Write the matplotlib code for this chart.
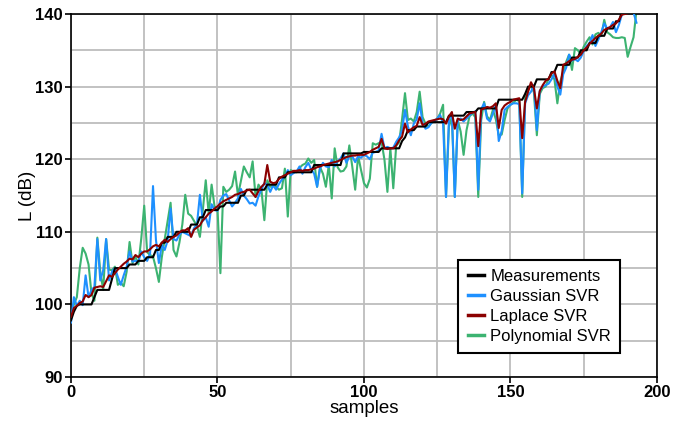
import numpy as np
import matplotlib
matplotlib.use("Agg")
from matplotlib import pyplot as plt
from matplotlib.ticker import MultipleLocator

# --- Data ---
measurements = [
    97.8, 99.0, 99.8, 100.0, 100.0, 100.0, 100.0, 100.0, 101.0, 102.0,
    102.0, 102.0, 102.0, 102.0, 103.5, 105.0, 105.0, 105.0, 105.0, 105.0,
    105.5, 105.5, 105.5, 106.0, 106.0, 106.0, 106.5, 106.5, 106.5, 107.5,
    107.5, 108.5, 108.5, 109.3, 109.3, 109.3, 110.0, 110.0, 110.0, 110.0,
    110.0, 111.0, 111.0, 111.0, 112.0, 112.0, 113.0, 113.0, 113.0, 113.0,
    113.0, 113.5, 113.5, 114.0, 114.0, 114.0, 114.0, 114.0, 115.0, 115.0,
    115.8, 115.8, 115.8, 115.8, 115.8, 115.8, 115.8, 116.5, 116.5, 116.5,
    116.5, 117.5, 117.5, 117.5, 118.2, 118.2, 118.2, 118.2, 118.2, 118.2,
    118.2, 118.2, 118.2, 119.2, 119.2, 119.2, 119.2, 119.2, 119.2, 119.2,
    119.2, 119.2, 119.2, 120.8, 120.8, 120.8, 120.8, 120.8, 120.8, 120.8,
    121.0, 121.0, 121.0, 121.0, 121.0, 121.0, 121.5, 121.5, 121.5, 121.5,
    121.5, 121.5, 121.5, 122.5, 123.0, 124.0, 124.0, 124.0, 124.5, 124.5,
    124.5, 124.5, 125.1, 125.1, 125.1, 125.1, 125.1, 125.1, 125.1, 126.0,
    126.0, 126.0, 126.0, 126.0, 126.0, 126.5, 126.5, 126.5, 126.5, 127.0,
    127.0, 127.0, 127.0, 127.0, 127.0, 127.0, 128.2, 128.2, 128.2, 128.2,
    128.2, 128.2, 128.2, 128.2, 128.2, 129.0, 130.0, 130.0, 130.0, 131.0,
    131.0, 131.0, 131.0, 131.0, 132.0, 132.0, 133.0, 133.0, 133.0, 133.0,
    133.0, 134.0, 134.0, 134.0, 135.0, 135.0, 135.0, 136.0, 136.0, 136.0,
    137.0, 137.0, 137.0, 138.0, 138.0, 138.0, 139.0, 139.0, 140.3, 140.3,
    140.3, 140.3, 140.3, 140.3,
]

gaussian = [
    97.5, 101.0, 99.8, 100.5, 99.9, 104.0, 101.0, 102.0, 102.4, 109.0,
    103.3, 104.7, 109.0, 103.3, 104.5, 105.0, 103.8, 102.7, 104.0, 105.2,
    107.3, 105.9, 106.0, 105.9, 107.3, 106.5, 106.0, 107.0, 116.3, 108.9,
    105.7, 108.2, 107.5, 108.8, 113.2, 109.0, 108.8, 109.6, 110.0, 109.8,
    109.6, 109.4, 110.5, 111.0, 115.1, 111.5, 112.0, 110.7, 113.8, 113.0,
    112.9, 114.4, 115.0, 115.2, 114.3, 113.5, 114.0, 114.6, 115.9, 115.0,
    114.5, 113.9, 114.0, 113.6, 114.9, 115.8, 116.7, 116.5, 115.5, 116.4,
    115.8, 116.6, 117.2, 117.6, 118.5, 117.8, 118.1, 118.3, 119.0, 118.0,
    118.9, 119.5, 118.6, 118.0, 116.2, 118.7, 119.5, 119.0, 118.9, 119.9,
    119.0, 119.7, 120.1, 120.8, 119.5, 120.4, 120.4, 119.6, 120.4, 120.2,
    120.6, 120.4, 120.0, 120.9, 121.0, 121.2, 123.5, 121.5, 121.7, 121.5,
    121.6, 122.4, 123.0, 124.0, 126.8, 124.5, 123.3, 124.9, 125.5, 127.7,
    125.0, 124.2, 124.4, 125.0, 125.2, 125.6, 126.1, 124.9, 114.8, 125.5,
    126.3, 114.8, 125.3, 125.6, 125.2, 125.6, 126.0, 126.4, 126.6, 115.8,
    126.9, 127.7, 125.6, 125.2, 126.3, 127.5, 122.5, 123.9, 126.8, 127.2,
    127.5, 127.7, 127.7, 127.6, 115.3, 127.7, 128.8, 129.3, 130.2, 124.0,
    129.4, 130.0, 130.2, 130.4, 131.0, 131.8, 130.0, 128.9, 131.7, 132.6,
    134.4, 133.6, 133.8, 133.5, 134.0, 134.9, 135.6, 136.0, 137.1, 135.6,
    136.5, 137.5, 138.7, 138.0, 138.2, 138.9, 137.5, 138.5, 139.9, 140.8,
    140.4, 140.3, 140.2, 138.8,
]

laplace = [
    98.3, 99.5, 99.8, 100.2, 100.4, 101.3, 101.0, 101.3, 102.3, 102.4,
    102.5, 102.4, 103.2, 104.0, 103.8, 104.3, 104.8, 105.2, 105.6, 105.9,
    106.3, 106.2, 106.8, 106.5, 107.0, 107.3, 107.3, 107.6, 108.0, 108.2,
    108.0, 108.5, 108.9, 108.6, 109.0, 109.3, 109.5, 109.9, 110.2, 110.2,
    110.5, 109.3, 110.3, 110.6, 110.9, 111.6, 112.0, 112.5, 112.8, 113.2,
    113.5, 113.9, 114.2, 114.4, 114.6, 114.8, 115.1, 115.2, 115.4, 115.5,
    115.7, 115.8, 115.3, 114.8, 115.6, 116.2, 116.6, 119.2, 116.9, 116.7,
    116.8, 117.3, 117.6, 117.8, 118.0, 118.2, 118.4, 118.4, 118.5, 118.4,
    118.5, 118.5, 118.6, 118.7, 118.9, 119.0, 119.2, 119.3, 119.4, 119.5,
    119.6, 119.7, 119.9, 120.1, 120.3, 120.4, 120.5, 120.5, 120.6, 120.6,
    120.6, 120.8, 121.0, 121.3, 121.5, 121.7, 122.8, 121.5, 121.4, 121.5,
    121.5, 121.9, 122.6, 123.1, 124.9, 123.7, 124.1, 124.4, 124.6, 125.8,
    124.7, 124.9, 125.2, 125.3, 125.4, 125.5, 125.6, 125.5, 124.9, 125.9,
    126.5, 124.2, 125.6, 125.4, 125.5, 125.9, 126.3, 126.4, 126.5, 121.8,
    126.8, 127.0, 127.2, 127.1, 127.3, 127.7, 124.3, 126.8, 127.4, 127.7,
    127.9, 128.2, 128.3, 128.4, 122.9, 127.9, 129.3, 130.6, 129.8, 127.0,
    129.4, 130.2, 130.8, 131.1, 131.8, 132.1, 130.8, 129.8, 133.0, 133.2,
    133.5, 133.7, 133.8, 134.1, 134.4, 135.0, 135.4, 135.9, 136.3, 136.7,
    137.0, 137.3, 137.8, 138.0, 138.2, 138.5, 138.7, 139.2, 139.9, 140.0,
    140.1, 140.5, 140.4, 140.6,
]

polynomial = [
    98.5, 100.0, 101.0, 105.0, 107.8, 107.0, 105.5, 101.5, 100.5, 109.2,
    104.5, 102.0, 109.0, 104.8, 104.7, 105.2, 102.7, 103.0, 102.5, 104.5,
    108.6, 105.7, 106.6, 105.5, 109.1, 113.6, 107.2, 106.8, 106.6, 105.0,
    103.1, 106.5, 109.0, 111.5, 114.0, 107.5, 106.6, 108.5, 111.0, 115.1,
    112.5, 112.2, 111.5, 110.8, 109.3, 113.0, 117.1, 112.5, 116.5, 113.5,
    113.3, 104.3, 116.2, 115.5, 115.8, 116.3, 118.3, 115.0, 117.0, 119.0,
    118.2, 117.5, 119.7, 114.8, 116.5, 115.8, 111.6, 117.1, 116.2, 116.6,
    116.2, 115.8, 116.0, 118.7, 112.1, 118.5, 118.3, 118.2, 118.8, 119.2,
    119.4, 120.1, 119.5, 119.9, 116.2, 118.9, 118.0, 116.2, 119.2, 114.6,
    121.5, 118.9, 118.3, 118.4, 119.0, 121.9, 119.0, 115.8, 120.5, 118.5,
    116.7, 116.1, 117.3, 122.2, 122.0, 122.2, 122.4, 119.9, 115.5, 121.5,
    116.0, 121.9, 122.3, 125.5, 129.1, 125.4, 125.6, 125.2, 126.5, 129.3,
    125.8, 124.9, 124.5, 125.0, 125.2, 125.6, 126.3, 127.5, 114.8, 124.5,
    125.8, 114.8, 125.4, 123.8, 120.6, 124.0, 125.9, 126.3, 125.8, 114.8,
    125.4, 127.9, 125.9, 125.4, 126.8, 125.5, 123.3, 123.4, 125.4, 127.0,
    127.5, 127.8, 128.2, 128.0, 114.8, 128.6, 129.5, 130.2, 129.2, 123.3,
    129.0, 129.8, 130.0, 131.1, 131.6, 131.0, 127.7, 130.7, 132.0, 133.4,
    134.4, 132.3, 135.3, 135.0, 134.5, 135.5, 136.2, 136.8, 135.8, 137.2,
    137.4, 137.0, 139.2, 137.5, 137.2, 136.8, 136.7, 136.7, 136.8, 136.7,
    134.1, 135.5, 136.8, 140.5,
]

samples = np.arange(len(measurements))

# --- Style ---
plt.rcParams['font.family'] = ['Liberation Sans', 'DejaVu Sans']

fig = plt.figure(figsize=(6.85, 4.22), dpi=100)
ax = fig.add_axes([0.1036, 0.1066, 0.8555, 0.8602])

lw = 1.5
ax.plot(samples, polynomial, color='#3cb371', lw=lw, zorder=2, label='Polynomial SVR')
ax.plot(samples, gaussian, color='#1e90ff', lw=lw, zorder=3, label='Gaussian SVR')
ax.plot(samples, measurements, color='black', lw=lw, zorder=4, label='Measurements')
ax.plot(samples, laplace, color='#8b0000', lw=lw, zorder=5, label='Laplace SVR')

ax.set_xlim(0, 200)
ax.set_ylim(90, 140)
ax.xaxis.set_major_locator(MultipleLocator(50))
ax.xaxis.set_minor_locator(MultipleLocator(25))
ax.yaxis.set_major_locator(MultipleLocator(10))
ax.yaxis.set_minor_locator(MultipleLocator(5))
ax.grid(True, which='both', color='#bdbdbd', lw=1.3)
ax.set_axisbelow(True)

ax.tick_params(which='major', direction='out', length=4, width=1.2, labelsize=12, pad=2)
ax.tick_params(which='minor', length=0)
for lab in ax.get_xticklabels() + ax.get_yticklabels():
    lab.set_fontweight('bold')
for sp in ax.spines.values():
    sp.set_linewidth(1.2)

ax.set_xlabel('samples', fontsize=13.5, labelpad=0)
ax.set_ylabel('L (dB)', fontsize=13.5, labelpad=-1)

# legend order as in the reference
handles, labels = ax.get_legend_handles_labels()
order = ['Measurements', 'Gaussian SVR', 'Laplace SVR', 'Polynomial SVR']
hmap = dict(zip(labels, handles))
leg = ax.legend([hmap[k] for k in order], order, loc='lower right',
                bbox_to_anchor=(0.937, 0.066), borderaxespad=0, fontsize=12,
                fancybox=False, framealpha=1, edgecolor='black', handlelength=1.0,
                handletextpad=0.35, labelspacing=0.3, borderpad=0.55)
leg.get_frame().set_linewidth(1.5)
for line in leg.get_lines():
    line.set_linewidth(2.5)

fig.savefig('out.png', dpi=100)
